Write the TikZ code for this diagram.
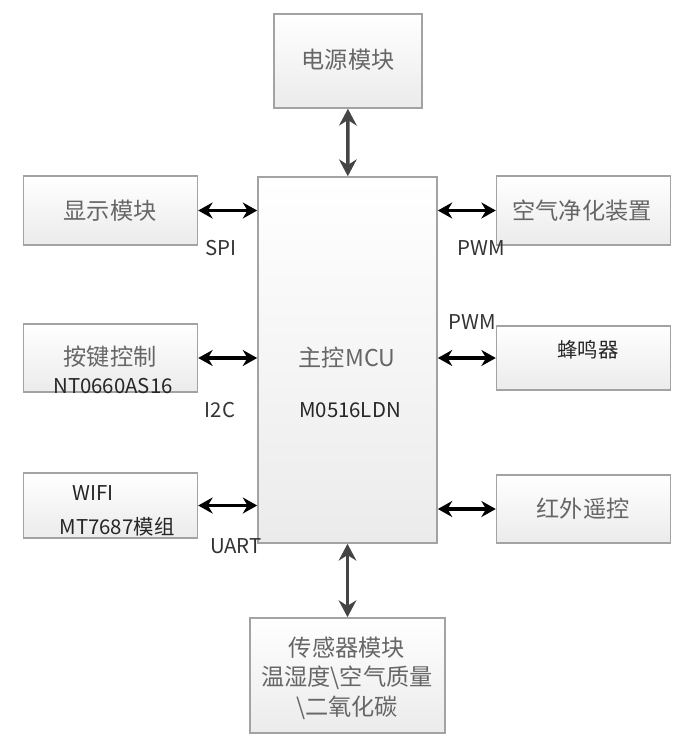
\documentclass[tikz,border=0pt]{standalone}
\usepackage{fontspec}
\setmainfont{Noto Sans CJK SC}
\usetikzlibrary{arrows.meta}
\definecolor{boxline}{HTML}{A3A3A3}
\definecolor{boxfill}{HTML}{EBEBEB}
\definecolor{boxtext}{HTML}{666666}
\definecolor{arrowgray}{HTML}{454545}
\begin{document}
\begin{tikzpicture}[x=0.025cm, y=-0.025cm,
  every node/.style={align=center},
  block/.style={draw=boxline, line width=1pt, top color=white, bottom color=boxfill, inner sep=0pt, minimum width=4.35cm, minimum height=1.72cm},
  blocktext/.style={text=boxtext, font=\fontsize{16.5}{21}\selectfont},
  tag/.style={text=black!80, font=\fontsize{14.5}{17}\selectfont},
  link/.style={{Stealth[length=3.6mm,width=4mm]}-{Stealth[length=3.6mm,width=4mm]}, line width=2.2pt, black},
  bus/.style={{Stealth[length=4.2mm,width=4.4mm]}-{Stealth[length=4.2mm,width=4.4mm]}, line width=2.6pt, arrowgray}]
\useasboundingbox (0,0) rectangle (686,745);
\node[block, minimum width=3.7cm, minimum height=2.35cm] (power) at (348,61) {};
\node[block, minimum width=4.48cm, minimum height=9.15cm] (mcu) at (347.5,360) {};
\node[block] (disp) at (110.5,210.5) {};
\node[block, minimum height=1.7cm] (key) at (110.5,358) {};
\node[block, minimum height=1.63cm] (wifi) at (110.5,505.5) {};
\node[block] (air) at (583.5,210.5) {};
\node[block, minimum height=1.6cm] (buzz) at (583.5,358) {};
\node[block, minimum height=1.7cm] (ir) at (583.5,509) {};
\node[block, minimum width=4.88cm, minimum height=2.88cm] (sensor) at (347.5,675.5) {};
% box texts
\node[blocktext] (powertxt) at (348,60) {电源模块};
\node[blocktext] (disptxt) at (110,211) {显示模块};
\node[blocktext] (keytxt) at (110,357) {按键控制};
\node[tag, text=black!85] (keyic) at (113,386) {NT0660AS16};
\node[tag, text=black!85] (wifitxt) at (93,493) {WIFI};
\node[tag, text=black!85] (wifiic) at (117,527) {MT7687模组};
\node[blocktext] (airtxt) at (582,211) {空气净化装置};
\node[tag, text=black!85] (buzztxt) at (588,350) {蜂鸣器};
\node[blocktext] (irtxt) at (583,509) {红外遥控};
\node[blocktext] (mcutxt) at (347,358) {主控MCU};
\node[tag, text=black!85] (mcuic) at (350,410) {M0516LDN};
\node[blocktext] (sensortxt) at (347,678) {传感器模块\\温湿度\textbackslash 空气质量\\\textbackslash 二氧化碳};
% bus labels
\node[tag] (spi) at (221,248) {SPI};
\node[tag] (i2c) at (220,410) {I2C};
\node[tag] (uart) at (236,546) {UART};
\node[tag] (pwma) at (481,248) {PWM};
\node[tag] (pwmb) at (472,322) {PWM};
% connectors
\draw[bus] (power) -- (mcu);
\draw[bus] (mcu) -- (sensor);
\draw[link] (disp) -- (disp -| mcu.west);
\draw[link] (key) -- (key -| mcu.west);
\draw[link] (wifi) -- (wifi -| mcu.west);
\draw[link] (air) -- (air -| mcu.east);
\draw[link] (buzz) -- (buzz -| mcu.east);
\draw[link] (ir) -- (ir -| mcu.east);
\end{tikzpicture}
\end{document}
